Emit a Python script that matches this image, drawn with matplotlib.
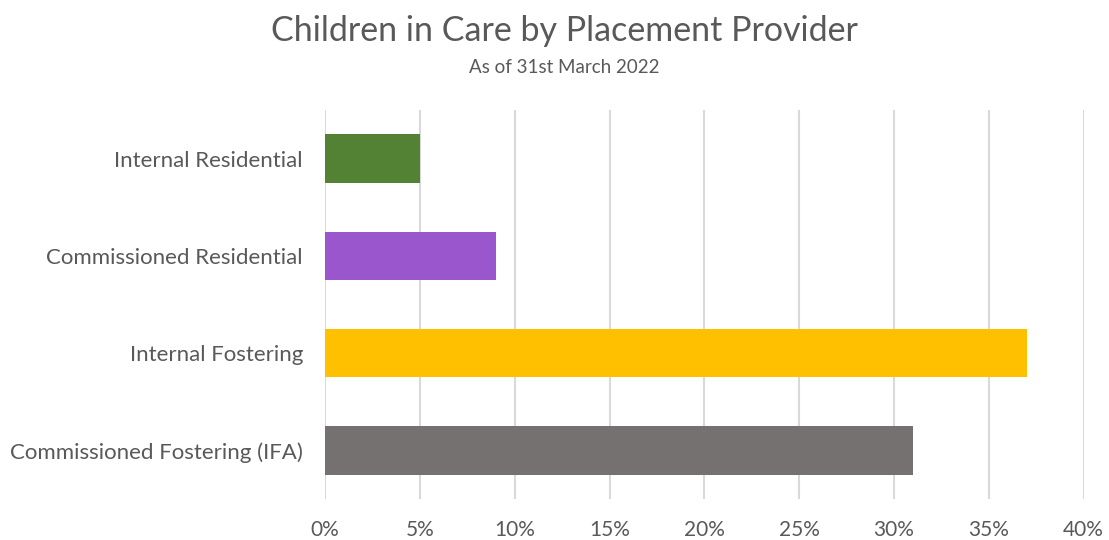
import matplotlib.pyplot as plt
from matplotlib.ticker import PercentFormatter

# dados do gráfico
categorias = ["Commissioned Fostering (IFA)", "Internal Fostering",
              "Commissioned Residential", "Internal Residential"]
valores = [31, 37, 9, 5]
cores = ["#767171", "#FFC000", "#9A57CD", "#548235"]

plt.rcParams['font.family'] = ['Lato', 'DejaVu Sans']

fig = plt.figure(figsize=(11.09, 5.4), dpi=100)
ax = fig.add_axes([0.2932, 0.0759, 0.684, 0.7204])

y = range(len(categorias))
ax.barh(y, valores, height=0.5, color=cores, zorder=3)

ax.set_xlim(0, 40)
ax.set_ylim(-0.5, 3.5)
ax.set_xticks(range(0, 41, 5))
ax.xaxis.set_major_formatter(PercentFormatter(decimals=0))
ax.set_yticks(list(y))
ax.set_yticklabels(categorias)

ax.grid(axis="x", color="#D9D9D9", linewidth=1.5, zorder=0)
for s in ax.spines.values():
    s.set_visible(False)
ax.tick_params(length=0, colors="#595959")
ax.tick_params(axis="y", labelsize=16, pad=16)
ax.tick_params(axis="x", labelsize=15, pad=15)

fig.text(0.5086, 0.942, "Children in Care by Placement Provider", ha="center", va="center",
         fontsize=24.5, color="#595959")
fig.text(0.5086, 0.875, "As of 31st March 2022", ha="center", va="center",
         fontsize=13.5, color="#595959")

fig.savefig("out.png", dpi=100)
